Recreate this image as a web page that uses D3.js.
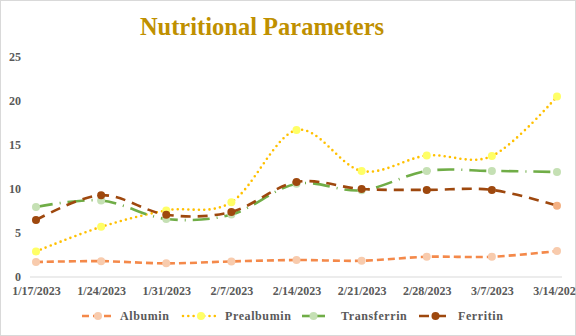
<!DOCTYPE html>
<html><head><meta charset="utf-8">
<script src="https://cdn.jsdelivr.net/npm/d3@7"></script>
<style>body{margin:0;background:#fff}svg{display:block}</style>
</head><body>
<script>
const categories = ["1/17/2023","1/24/2023","1/31/2023","2/7/2023","2/14/2023","2/21/2023","2/28/2023","3/7/2023","3/14/2023"];
const albumin     = [1.7, 1.8, 1.55, 1.77, 1.93, 1.85, 2.3, 2.3, 2.95];
const prealbumin  = [2.9, 5.7, 7.57, 8.5, 16.7, 12.05, 13.8, 13.75, 20.5];
const transferrin = [7.95, 8.7, 6.6, 7.1, 10.6, 9.85, 12.05, 12.05, 11.93];
const ferritin    = [6.47, 9.3, 7.08, 7.4, 10.8, 10.0, 9.9, 9.9, 8.1];
const seriesNames = ["Albumin","Prealbumin","Transferrin","Ferritin"];
const yTicks = [0,5,10,15,20,25];

const FONT="'Liberation Serif','Times New Roman','DejaVu Serif',serif";
const W=576,H=336;
const svg=d3.select("body").append("svg").attr("width",W).attr("height",H);
svg.append("rect").attr("x",0.5).attr("y",0.5).attr("width",W-1).attr("height",H-1).attr("fill","#fff").attr("stroke","#D9D9D9");

const x=d3.scalePoint().domain(categories).range([36,557]);
const y=d3.scaleLinear().domain([0,25]).range([277,57]);

svg.append("text").attr("x",262).attr("y",35).attr("text-anchor","middle")
  .style("font-family",FONT).attr("font-weight","bold").attr("font-size",24.5)
  .attr("fill","#BF9000").text("Nutritional Parameters");

// y axis labels
const ya=svg.append("g").attr("transform","translate(21,0)").call(d3.axisLeft(y).tickValues(yTicks).tickSize(0).tickPadding(0));
ya.select(".domain").remove();
ya.selectAll("text").style("font-family",FONT).attr("font-weight","bold").attr("font-size",12).attr("fill","#595959");

// x axis
const xa=svg.append("g").attr("transform","translate(0,277)").call(d3.axisBottom(x).tickSize(0).tickPadding(9));
xa.select(".domain").remove();
xa.append("line").attr("x1",30).attr("x2",562).attr("stroke","#D9D9D9").attr("stroke-width",1);
xa.selectAll("text").style("font-family",FONT).attr("font-weight","bold").attr("font-size",12).attr("fill","#595959");

const styles=[
 {data:albumin, color:"#F4894A", dash:"7,4", cap:"butt", marker:"#F8CBAD"},
 {data:prealbumin, color:"#FFC000", dash:"0,5.3", cap:"round", marker:"#FFFF66"},
 {data:transferrin, color:"#70AD47", dash:"17,7,1,7", cap:"butt", marker:"#C5E0B4"},
 {data:ferritin, color:"#9E480E", dash:"10,7", cap:"butt", marker:"#9E480E"}
];
const line=d3.line().x((d,i)=>x(categories[i])).y(d=>y(d)).curve(d3.curveCardinal.tension(0));
styles.forEach((s,si)=>{
  const g=svg.append("g");
  g.append("path").attr("d",line(s.data)).attr("fill","none").attr("stroke",s.color)
   .attr("stroke-width",2.6).attr("stroke-dasharray",s.dash).attr("stroke-linecap",s.cap);
  g.selectAll("circle").data(s.data).join("circle")
   .attr("cx",(d,i)=>x(categories[i])).attr("cy",d=>y(d)).attr("r",4)
   .attr("fill",(d,i)=>(si===3&&i===s.data.length-1)?"#F4B183":s.marker);
});

// legend
const legX=[82,183,302,419], legW=[32,36,23,33];
styles.forEach((s,si)=>{
  const g=svg.append("g");
  const x0=legX[si], x1=legX[si]+legW[si], ly=316;
  g.append("line").attr("x1",x0).attr("x2",x1).attr("y1",ly).attr("y2",ly).attr("stroke",s.color)
   .attr("stroke-width",2.6).attr("stroke-dasharray",si===2?null:s.dash).attr("stroke-linecap",s.cap);
  g.append("circle").attr("cx",(x0+x1)/2).attr("cy",ly).attr("r",4).attr("fill",s.marker);
  g.append("text").attr("x",x1+(si===2?16:6)).attr("y",ly+4).style("font-family",FONT)
   .attr("font-weight","bold").attr("font-size",12).attr("fill","#595959").attr("letter-spacing",0.6).text(seriesNames[si]);
});
</script>
</body></html>
